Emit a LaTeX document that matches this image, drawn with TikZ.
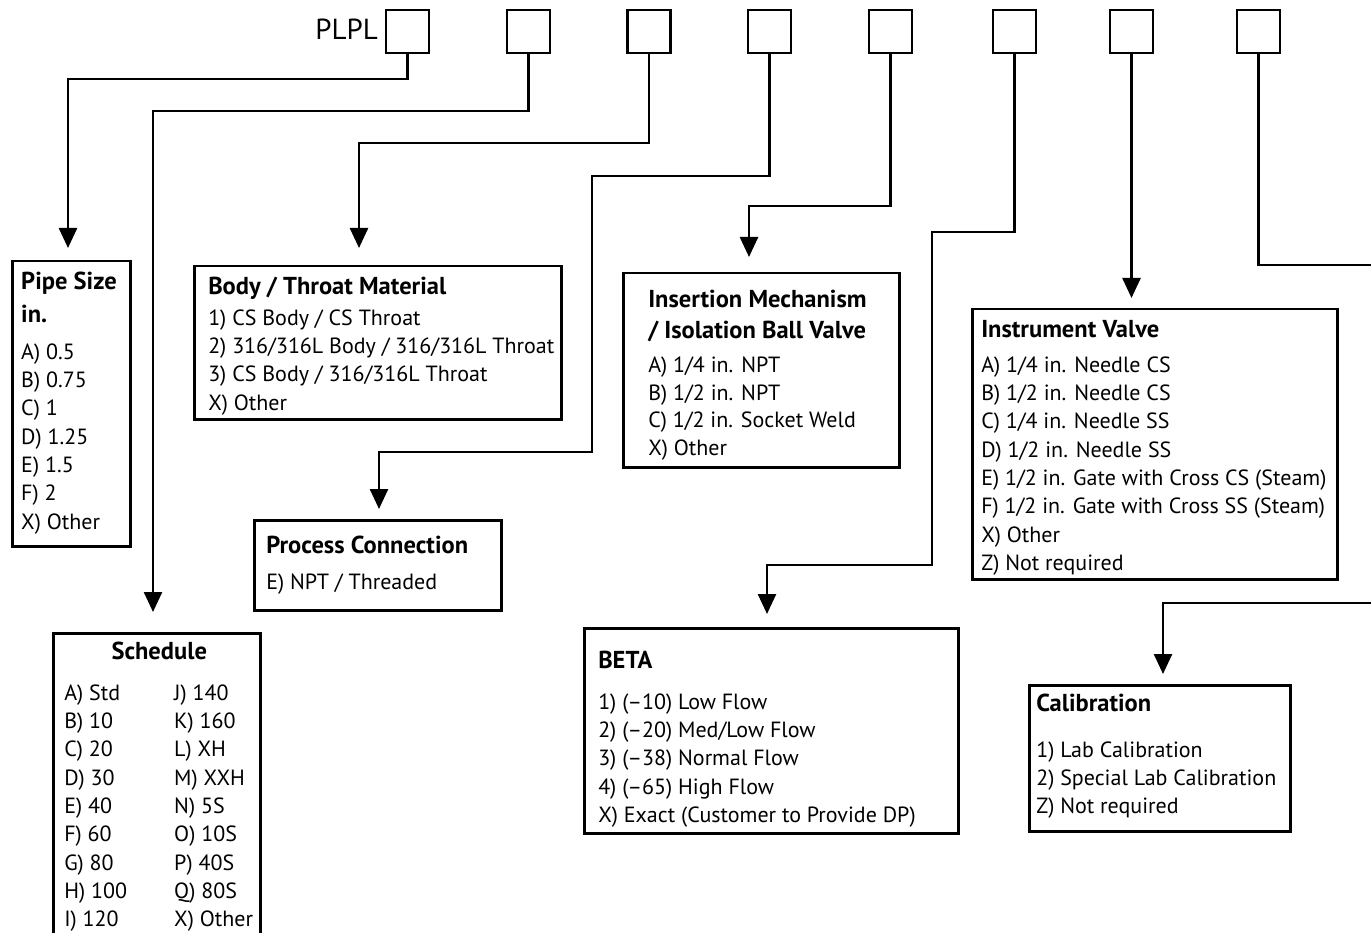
\documentclass[tikz,border=0pt]{standalone}
\usepackage{fontspec}
\setmainfont{PT Sans}
\usetikzlibrary{arrows.meta}
\newcommand{\panelbox}[5]{% width, height, first baseline, left pad, content
\begin{minipage}[c][#2pt][t]{#1pt}\setlength{\parindent}{0pt}\raggedright\leftskip=#4pt\rule{0pt}{#3pt}#5\end{minipage}}
\newcommand{\ttl}[1]{{\fontsize{24.5}{28.3}\selectfont\bfseries #1}}
\tikzset{
  sq/.style={draw, line width=2.5pt, minimum size=43pt, inner sep=0pt},
  panel/.style={draw, line width=2.5pt, inner sep=0pt, anchor=north west,
    font=\fontsize{22}{28.3}\selectfont},
  conn/.style={line width=2.5pt, line join=miter},
  arr/.style={conn, -{Triangle[length=20pt,width=18pt]}},
}
\begin{document}
\begin{tikzpicture}[x=1pt,y=-1pt]
\useasboundingbox (0,0) rectangle (1371,933);
\clip (0,0) rectangle (1371,933);
% top squares
\node[sq] (s1) at (407.5,31.5) {};
\node[sq] (s2) at (528.5,31.5) {};
\node[sq] (s3) at (649,31.5) {};
\node[sq] (s4) at (769.5,31.5) {};
\node[sq] (s5) at (890.5,31.5) {};
\node[sq] (s6) at (1014.5,31.5) {};
\node[sq] (s7) at (1131.5,31.5) {};
\node[sq] (s8) at (1258.5,31.5) {};
\node[anchor=base east, inner sep=0pt, font=\fontsize{29}{32}\selectfont] (plpl) at (378,40) {PLPL};
% panels
\node[panel] (pipe) at (11,260) {\panelbox{118}{285}{28}{9}{%
\ttl{Pipe Size}\\[4.7pt]\ttl{in.}\\[8.7pt]A) 0.5\\B) 0.75\\C) 1\\D) 1.25\\E) 1.5\\F) 2\\X) Other}};
\node[panel] (body) at (193,265) {\panelbox{367}{153}{28}{14}{%
\ttl{Body / Throat Material}\\[2.7pt]1) CS Body / CS Throat\\2) 316/316L Body / 316/316L Throat\\3) CS Body / 316/316L Throat\\X) Other}};
\node[panel] (proc) at (253,519) {\panelbox{247}{90}{33}{12}{%
\ttl{Process Connection}\\[7.7pt]E) NPT / Threaded}};
\node[panel] (ins) at (622,272) {\panelbox{276}{194}{34}{25}{%
\ttl{Insertion Mechanism}\\[2.7pt]\ttl{/ Isolation Ball Valve}\\[5.7pt]A) 1/4 in. NPT\\[-0.5pt]B) 1/2 in. NPT\\[-0.5pt]C) 1/2 in. Socket Weld\\[-0.5pt]X) Other}};
\node[panel] (inst) at (971,308) {\panelbox{365}{270}{28}{9}{%
\ttl{Instrument Valve}\\[6.7pt]A) 1/4 in. Needle CS\\B) 1/2 in. Needle CS\\C) 1/4 in. Needle SS\\D) 1/2 in. Needle SS\\E) 1/2 in. Gate with Cross CS (Steam)\\F) 1/2 in. Gate with Cross SS (Steam)\\X) Other\\Z) Not required}};
\node[panel] (beta) at (583,627) {\panelbox{374}{205}{40}{14}{%
\ttl{BETA}\\[12.7pt]1) (--10) Low Flow\\2) (--20) Med/Low Flow\\3) (--38) Normal Flow\\4) (--65) High Flow\\X) Exact (Customer to Provide DP)}};
\node[panel] (cal) at (1028,684) {\panelbox{261}{146}{26}{7}{%
\ttl{Calibration}\\[17.7pt]1) Lab Calibration\\2) Special Lab Calibration\\Z) Not required}};
\node[panel] (sched) at (52,632) {\panelbox{207}{328}{26}{11}{%
\makebox[190pt][c]{\ttl{Schedule}}\\[12.7pt]%
\makebox[110pt][l]{A) Std}J) 140\\
\makebox[110pt][l]{B) 10}K) 160\\
\makebox[110pt][l]{C) 20}L) XH\\
\makebox[110pt][l]{D) 30}M) XXH\\
\makebox[110pt][l]{E) 40}N) 5S\\
\makebox[110pt][l]{F) 60}O) 10S\\
\makebox[110pt][l]{G) 80}P) 40S\\
\makebox[110pt][l]{H) 100}Q) 80S\\
\makebox[110pt][l]{I) 120}X) Other}};
% bend points
\coordinate (b1) at (68,79);
\coordinate (b2) at (153,111);
\coordinate (b3) at (359,143);
\coordinate (b4a) at (592,176);
\coordinate (b4b) at (379,452);
\coordinate (b5) at (749,206);
\coordinate (b6a) at (932,232);
\coordinate (b6b) at (767,565);
\coordinate (e8a) at (1375,265);
\coordinate (e8b) at (1375,603);
\coordinate (b8) at (1163,603);
% connectors
\draw[arr, shorten >=12pt] (s1.south) |- (b1) -- (b1 |- pipe.north);
\draw[arr, shorten >=20pt] (s2.south) |- (b2) -- (b2 |- sched.north);
\draw[arr, shorten >=17pt] (s3.south) |- (b3) -- (b3 |- body.north);
\draw[arr, shorten >=10pt] (s4.south) |- (b4a) |- (b4b) -- (b4b |- proc.north);
\draw[arr, shorten >=15pt] (s5.south) |- (b5) -- (b5 |- ins.north);
\draw[arr, shorten >=13pt] (s6.south) |- (b6a) |- (b6b) -- (b6b |- beta.north);
\draw[arr, shorten >=10pt] (s7.south) -- (s7.south |- inst.north);
\draw[conn] (s8.south) |- (e8a);
\draw[arr, shorten >=10pt] (e8b) -- (b8) -- (b8 |- cal.north);
\end{tikzpicture}
\end{document}
